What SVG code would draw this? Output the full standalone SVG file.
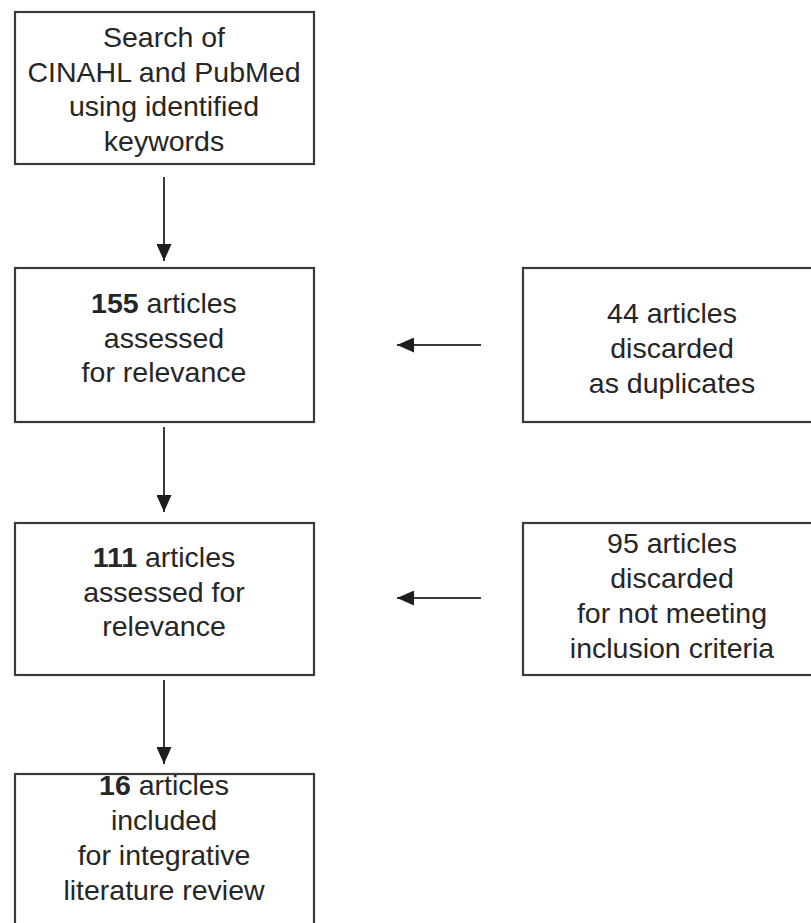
<svg xmlns="http://www.w3.org/2000/svg" width="811" height="923" viewBox="0 0 811 923">
  <style>
    .box { fill: #ffffff; stroke: #3a3a3a; stroke-width: 2.2; }
    .t { font-family: "Liberation Sans", Arial, sans-serif; font-size: 28.5px; fill: #262626; text-anchor: middle; }
    .b { font-weight: bold; }
    .edge { stroke: #3a3a3a; stroke-width: 2; fill: none; }
  </style>
  <defs>
    <marker id="arrow" viewBox="0 0 17 15" refX="17" refY="7.5" markerWidth="17" markerHeight="15" markerUnits="userSpaceOnUse" orient="auto">
      <path d="M0,0 L17,7.5 L0,15 z" fill="#1e1e1e"/>
    </marker>
  </defs>
  <rect width="811" height="923" fill="#ffffff"/>

  <g id="connectors">
    <line class="edge" x1="164" y1="177" x2="164" y2="261" marker-end="url(#arrow)"/>
    <line class="edge" x1="164" y1="427" x2="164" y2="512" marker-end="url(#arrow)"/>
    <line class="edge" x1="164" y1="680" x2="164" y2="764" marker-end="url(#arrow)"/>
    <line class="edge" x1="481" y1="345" x2="397" y2="345" marker-end="url(#arrow)"/>
    <line class="edge" x1="481" y1="598" x2="397" y2="598" marker-end="url(#arrow)"/>
  </g>

  <g id="search">
    <rect class="box" x="15" y="12" width="299" height="152"/>
    <text class="t" x="164" y="47">Search of</text>
    <text class="t" x="164" y="81.5">CINAHL and PubMed</text>
    <text class="t" x="164" y="116">using identified</text>
    <text class="t" x="164" y="150.5">keywords</text>
  </g>

  <g id="assessed155">
    <rect class="box" x="15" y="268" width="299" height="154"/>
    <text class="t" x="164" y="313"><tspan class="b">155</tspan> articles</text>
    <text class="t" x="164" y="347.5">assessed</text>
    <text class="t" x="164" y="382">for relevance</text>
  </g>

  <g id="duplicates">
    <rect class="box" x="523" y="268" width="299" height="154"/>
    <text class="t" x="672" y="323">44 articles</text>
    <text class="t" x="672" y="358">discarded</text>
    <text class="t" x="672" y="393">as duplicates</text>
  </g>

  <g id="assessed111">
    <rect class="box" x="15" y="523" width="299" height="152"/>
    <text class="t" x="164" y="567"><tspan class="b">111</tspan> articles</text>
    <text class="t" x="164" y="601.5">assessed for</text>
    <text class="t" x="164" y="636">relevance</text>
  </g>

  <g id="excluded">
    <rect class="box" x="523" y="523" width="299" height="152"/>
    <text class="t" x="672" y="553">95 articles</text>
    <text class="t" x="672" y="588">discarded</text>
    <text class="t" x="672" y="623">for not meeting</text>
    <text class="t" x="672" y="658">inclusion criteria</text>
  </g>

  <g id="included">
    <rect class="box" x="15" y="774" width="299" height="160"/>
    <text class="t" x="164" y="795"><tspan class="b">16</tspan> articles</text>
    <text class="t" x="164" y="830">included</text>
    <text class="t" x="164" y="865">for integrative</text>
    <text class="t" x="164" y="900">literature review</text>
  </g>
</svg>
